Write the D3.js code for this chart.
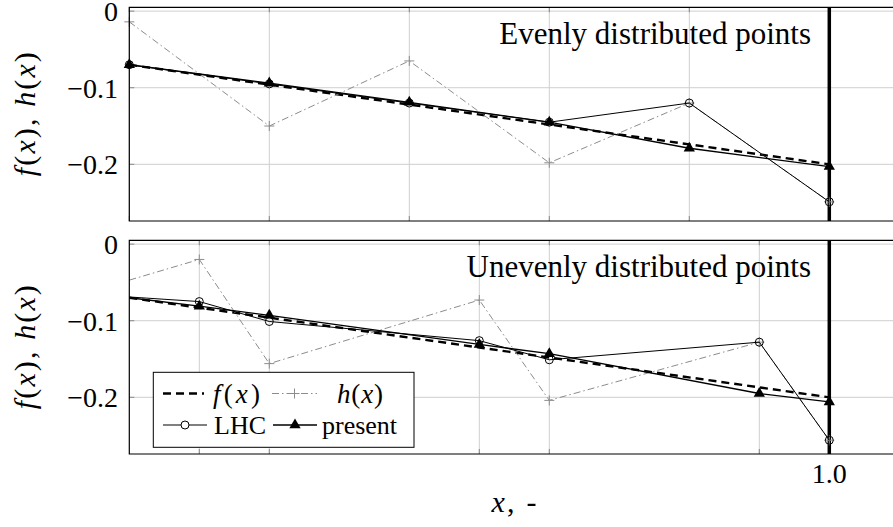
<!DOCTYPE html>
<html>
<head>
<meta charset="utf-8">
<script src="https://cdn.jsdelivr.net/npm/d3@7"></script>
<style>
body { margin: 0; background: #fff; }
svg { display: block; font-family: "Liberation Serif", "Times New Roman", serif; }
</style>
</head>
<body>
<div id="chart"></div>
<script>
// sample positions
const xEven = [0, 0.2, 0.4, 0.6, 0.8, 1.0];
const xUneven = [0, 0.1, 0.2, 0.5, 0.6, 0.9, 1.0];

// top panel: evenly distributed points
const fEven = [-0.070, -0.096, -0.122, -0.148, -0.174, -0.200];
const hEven = [-0.014, -0.150, -0.065, -0.198, -0.120, -0.249];
const lhcEven = [-0.070, -0.095, -0.120, -0.145, -0.120, -0.249];
const presentEven = [-0.070, -0.094, -0.119, -0.145, -0.179, -0.203];

// bottom panel: unevenly distributed points (first point is the start, no marker)
const fUneven = [-0.070, -0.083, -0.096, -0.135, -0.148, -0.187, -0.200];
const hUneven = [-0.047, -0.020, -0.156, -0.073, -0.204, -0.128, -0.256];
const lhcUneven = [-0.069, -0.075, -0.101, -0.126, -0.151, -0.128, -0.256];
const presentUneven = [-0.070, -0.081, -0.093, -0.131, -0.143, -0.195, -0.206];

const yTicks = [0, -0.1, -0.2];
const xGridEven = [0, 0.2, 0.4, 0.6, 0.8, 1.0];
const xGridUneven = [0.1, 0.2, 0.5, 0.6, 0.9, 1.0];
const xTickLabels = [1.0];
const titles = ["Evenly distributed points", "Unevenly distributed points"];
const yLabel = "f(x), h(x)";
const xLabel = "x, -";

const width = 893, height = 527;
const left = 129.3, panelH = 213.7;
const panelTops = [7.3, 240.3];
const fs = 28;

const svg = d3.select("#chart").append("svg")
    .attr("width", width)
    .attr("height", height);

const x = d3.scaleLinear().domain([0, 1.1]).range([left, left + 770]);

// letters in italics, the rest upright (poor man's math mode)
function mathText(sel, str, len) {
    const parts = str.match(/[A-Za-z]+|[^A-Za-z]+/g);
    parts.forEach(p => {
        sel.append("tspan")
            .attr("font-style", /[A-Za-z]/.test(p) ? "italic" : "normal")
            .text(p);
    });
    if (len) sel.attr("textLength", len).attr("lengthAdjust", "spacing");
    return sel;
}

function drawPanel(top, xs, series, grid, title, firstMarked, withLegend) {
    const y = d3.scaleLinear().domain([-0.274, 0.005]).range([top + panelH, top]);
    const g = svg.append("g");
    const x0 = x.range()[0], x1 = x.range()[1];
    const yb = y.range()[0], yt = y.range()[1];

    // grid
    g.selectAll(".gx").data(grid).enter().append("line")
        .attr("x1", d => x(d)).attr("x2", d => x(d))
        .attr("y1", yt).attr("y2", yb)
        .attr("stroke", "#cfcfcf").attr("stroke-width", 1);
    g.selectAll(".gy").data(yTicks).enter().append("line")
        .attr("x1", x0).attr("x2", x1)
        .attr("y1", d => y(d)).attr("y2", d => y(d))
        .attr("stroke", "#cfcfcf").attr("stroke-width", 1);

    // tick marks on the frame
    const tl = 5;
    grid.forEach(d => {
        g.append("line").attr("x1", x(d)).attr("x2", x(d)).attr("y1", yt).attr("y2", yt + tl)
            .attr("stroke", "#8a8a8a");
        g.append("line").attr("x1", x(d)).attr("x2", x(d)).attr("y1", yb).attr("y2", yb - tl)
            .attr("stroke", "#8a8a8a");
    });
    yTicks.forEach(d => {
        g.append("line").attr("x1", x0).attr("x2", x0 + tl).attr("y1", y(d)).attr("y2", y(d))
            .attr("stroke", "#8a8a8a");
    });

    // y tick labels
    const fmt = d => d === 0 ? "0" : d3.format(".1f")(d);
    g.selectAll(".yl").data(yTicks).enter().append("text")
        .attr("x", 118).attr("y", d => y(d) + 10)
        .attr("text-anchor", "end")
        .attr("font-size", fs)
        .text(fmt);

    // line at x = 1
    g.append("line")
        .attr("x1", x(1)).attr("x2", x(1)).attr("y1", yt).attr("y2", yb)
        .attr("stroke", "#000").attr("stroke-width", 3.5);

    const pts = v => xs.map((d, i) => [x(d), y(v[i])]);
    const line = d3.line();

    // f(x)
    g.append("path").attr("d", line(pts(series.f)))
        .attr("fill", "none").attr("stroke", "#000")
        .attr("stroke-width", 2.4).attr("stroke-dasharray", "8,5");

    // h(x)
    g.append("path").attr("d", line(pts(series.h)))
        .attr("fill", "none").attr("stroke", "#8c8c8c")
        .attr("stroke-width", 1).attr("stroke-dasharray", "7,3,1.5,3");
    const hp = pts(series.h).slice(firstMarked);
    g.selectAll(".hm").data(hp).enter().append("path")
        .attr("d", d => `M${d[0] - 5},${d[1]}h10M${d[0]},${d[1] - 5}v10`)
        .attr("stroke", "#8c8c8c").attr("stroke-width", 1);

    // LHC
    g.append("path").attr("d", line(pts(series.lhc)))
        .attr("fill", "none").attr("stroke", "#000").attr("stroke-width", 1);
    g.selectAll(".lm").data(pts(series.lhc).slice(firstMarked)).enter().append("circle")
        .attr("cx", d => d[0]).attr("cy", d => d[1]).attr("r", 4)
        .attr("fill", "none").attr("stroke", "#000").attr("stroke-width", 1);

    // present
    g.append("path").attr("d", line(pts(series.present)))
        .attr("fill", "none").attr("stroke", "#000").attr("stroke-width", 1.3);
    const tri = d3.symbol().type(d3.symbolTriangle).size(55);
    g.selectAll(".pm").data(pts(series.present).slice(firstMarked)).enter().append("path")
        .attr("d", tri)
        .attr("transform", d => `translate(${d[0]},${d[1]})`)
        .attr("fill", "#000");

    // frame (right side is outside the picture)
    g.append("path")
        .attr("d", `M${x1},${yt}H${x0}V${yb}H${x1}`)
        .attr("fill", "none").attr("stroke", "#000").attr("stroke-width", 1.2);

    // title
    g.append("text")
        .attr("x", 811).attr("y", yt + 37)
        .attr("text-anchor", "end")
        .attr("font-size", 31)
        .text(title);

    // y label
    mathText(g.append("text")
        .attr("transform", `translate(35,${(yt + yb) / 2}) rotate(-90)`)
        .attr("text-anchor", "middle")
        .attr("font-size", 30), yLabel, 124);

    if (withLegend) drawLegend(g);
    return y;
}

function drawLegend(g) {
    const lg = g.append("g");
    const lfs = 26;
    lg.append("rect")
        .attr("x", 153.3).attr("y", 372.3).attr("width", 260.7).attr("height", 75)
        .attr("fill", "#fff").attr("stroke", "#000").attr("stroke-width", 1);
    const r1 = 393.5, r2 = 425;
    // f(x)
    lg.append("line").attr("x1", 163).attr("x2", 204).attr("y1", r1).attr("y2", r1)
        .attr("stroke", "#000").attr("stroke-width", 2.4).attr("stroke-dasharray", "8,5");
    mathText(lg.append("text").attr("x", 213).attr("y", r1 + 9).attr("font-size", lfs + 1), "f(x)", 47);
    // h(x)
    lg.append("line").attr("x1", 272).attr("x2", 317).attr("y1", r1).attr("y2", r1)
        .attr("stroke", "#8c8c8c").attr("stroke-width", 1).attr("stroke-dasharray", "7,3,1.5,3");
    lg.append("path").attr("d", `M289.5,${r1}h10M294.5,${r1 - 5}v10`)
        .attr("stroke", "#8c8c8c").attr("stroke-width", 1);
    mathText(lg.append("text").attr("x", 337).attr("y", r1 + 9).attr("font-size", lfs + 1), "h(x)", 46);
    // LHC
    lg.append("line").attr("x1", 163).attr("x2", 207).attr("y1", r2).attr("y2", r2)
        .attr("stroke", "#000").attr("stroke-width", 1);
    lg.append("circle").attr("cx", 185).attr("cy", r2).attr("r", 4)
        .attr("fill", "#fff").attr("stroke", "#000").attr("stroke-width", 1);
    lg.append("text").attr("x", 214).attr("y", r2 + 9).attr("font-size", lfs).text("LHC");
    // present
    lg.append("line").attr("x1", 273).attr("x2", 317).attr("y1", r2).attr("y2", r2)
        .attr("stroke", "#000").attr("stroke-width", 1.3);
    lg.append("path").attr("d", d3.symbol().type(d3.symbolTriangle).size(55))
        .attr("transform", `translate(295,${r2})`).attr("fill", "#000");
    lg.append("text").attr("x", 322).attr("y", r2 + 9).attr("font-size", lfs).text("present");
}

drawPanel(panelTops[0], xEven,
    {f: fEven, h: hEven, lhc: lhcEven, present: presentEven},
    xGridEven, titles[0], 0, false);
const yBottom = drawPanel(panelTops[1], xUneven,
    {f: fUneven, h: hUneven, lhc: lhcUneven, present: presentUneven},
    xGridUneven, titles[1], 1, true);

// x tick label and axis title under the bottom panel
svg.selectAll(".xl").data(xTickLabels).enter().append("text")
    .attr("x", d => x(d)).attr("y", yBottom.range()[0] + 29)
    .attr("text-anchor", "middle")
    .attr("font-size", fs)
    .text(d => d3.format(".1f")(d));

mathText(svg.append("text")
    .attr("x", 514).attr("y", 512)
    .attr("text-anchor", "middle")
    .attr("font-size", 30), xLabel, 45);
</script>
</body>
</html>
